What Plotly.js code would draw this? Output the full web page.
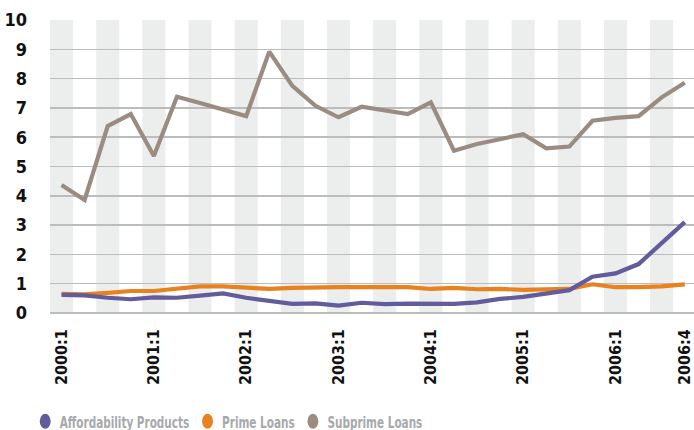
<!DOCTYPE html>
<html>
<head>
<meta charset="utf-8">
<script src="https://cdn.plot.ly/plotly-3.0.1.min.js"></script>
<style>
html,body{margin:0;padding:0;background:#fff;}
#chart{width:694px;height:430px;}
</style>
</head>
<body>
<div id="chart"></div>
<script>
var quarters = ["2000:1","2000:2","2000:3","2000:4","2001:1","2001:2","2001:3","2001:4",
  "2002:1","2002:2","2002:3","2002:4","2003:1","2003:2","2003:3","2003:4",
  "2004:1","2004:2","2004:3","2004:4","2005:1","2005:2","2005:3","2005:4",
  "2006:1","2006:2","2006:3","2006:4"];
var tickLabels = ["2000:1","2001:1","2002:1","2003:1","2004:1","2005:1","2006:1","2006:4"];
var affordability = [0.62,0.60,0.52,0.47,0.53,0.52,0.59,0.67,0.52,0.42,0.31,0.33,0.25,0.35,0.30,0.32,
  0.30,0.31,0.36,0.48,0.55,0.65,0.78,1.24,1.35,1.67,2.40,3.10];
var prime = [0.65,0.64,0.69,0.75,0.75,0.84,0.91,0.91,0.86,0.82,0.86,0.88,0.88,0.88,0.88,0.88,
  0.82,0.86,0.81,0.82,0.79,0.79,0.82,0.98,0.88,0.88,0.91,0.98];
var subprime = [4.37,3.86,6.38,6.79,5.36,7.38,7.17,6.95,6.72,8.92,7.75,7.07,6.68,7.04,6.90,6.79,
  7.19,5.54,5.77,5.93,6.10,5.62,5.68,6.56,6.66,6.72,7.36,7.86];
var seriesNames = ["Affordability Products","Prime Loans","Subprime Loans"];
var seriesColors = ["#625b9c","#e8821e","#9a8c80"];

var FONT = "'Liberation Sans Narrow', 'DejaVu Sans Condensed', Arial, sans-serif";
var data = [affordability, prime, subprime];
var traces = [];
[2,1,0].forEach(function(k){
  traces.push({x: quarters, y: data[k], type: 'scatter', mode: 'lines',
    line: {color: seriesColors[k], width: 4.2}, showlegend: false, hoverinfo: 'skip'});
});
[0,1,2].forEach(function(k){
  traces.push({x: [null], y: [null], type: 'scatter', mode: 'markers', name: seriesNames[k],
    marker: {color: seriesColors[k], size: 15, symbol: 'circle'}, showlegend: true});
});

var shapes = [];
for (var i = 0; i < quarters.length; i += 2) {
  shapes.push({type: 'rect', layer: 'below', xref: 'x', yref: 'paper',
    x0: i - 0.5, x1: i + 0.5, y0: 0, y1: 1, fillcolor: '#eceeed', line: {width: 0}});
}

var layout = {
  width: 694, height: 430,
  margin: {l: 50, r: 0, t: 20, b: 117},
  paper_bgcolor: '#fff', plot_bgcolor: 'rgba(0,0,0,0)',
  font: {family: FONT},
  showlegend: true,
  legend: {orientation: 'h', x: -0.03, xanchor: 'left', y: -0.36, yanchor: 'bottom',
    font: {family: FONT, size: 16, color: '#a7a9ac', weight: 'bold'},
    itemwidth: 30, tracegroupgap: 0, bgcolor: 'rgba(0,0,0,0)'},
  xaxis: {type: 'category', range: [-0.5, 27.4], showgrid: false, zeroline: false, automargin: false,
    tickmode: 'array', tickvals: tickLabels, ticktext: tickLabels, tickangle: -90,
    ticks: '', ticklabelstandoff: 12,
    tickfont: {family: FONT, size: 16, color: '#111', weight: 'bold'}, showline: false, fixedrange: true},
  yaxis: {range: [0, 10], dtick: 1, showgrid: true, gridcolor: '#bcbcbc', gridwidth: 1.5, automargin: false,
    zeroline: true, zerolinecolor: '#bcbcbc', zerolinewidth: 1.5, ticks: '', ticklabelstandoff: 22,
    tickfont: {family: FONT, size: 18, color: '#111', weight: 'bold'}, fixedrange: true},
  shapes: shapes
};
Plotly.newPlot('chart', traces, layout, {displayModeBar: false, staticPlot: true}).then(function(gd){
  // condense the legend horizontally to mimic the narrow typeface and move it to the bottom row
  var leg = gd.querySelector('g.legend');
  if (!leg) return;
  var tr = leg.getAttribute('transform') || '';
  var m = tr.match(/translate\(\s*([-\d.]+)[ ,]+([-\d.]+)\s*\)/);
  if (!m) return;
  var lx = parseFloat(m[1]), ly = parseFloat(m[2]);
  var txt = leg.querySelector('text.legendtext');
  var dy = 0;
  if (txt) {
    var r = txt.getBoundingClientRect();
    var c = r.top + r.height / 2;
    dy = 422 - c;
  }
  leg.setAttribute('transform', 'translate(' + lx + ',' + (ly + dy) + ') scale(0.727,1)');
});
</script>
</body>
</html>
